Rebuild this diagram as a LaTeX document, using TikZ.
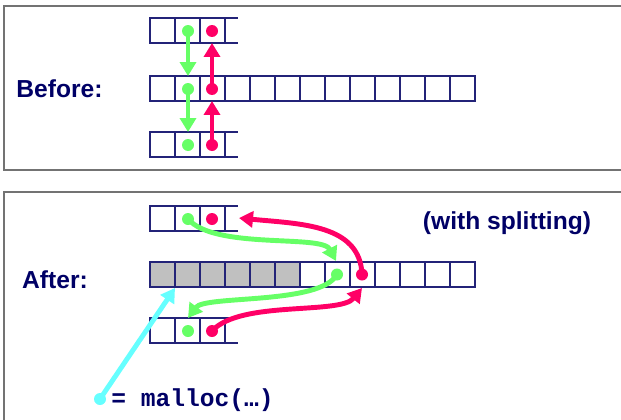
\documentclass[tikz,border=0pt]{standalone}
\usepackage{fontspec}
\newfontfamily\labelfont{Liberation Sans}
\newfontfamily\codefont{Liberation Mono}
\usetikzlibrary{arrows.meta}
\definecolor{navy}{RGB}{0,0,102}
\definecolor{cellblue}{RGB}{35,35,120}
\definecolor{cellgrey}{RGB}{192,192,192}
\definecolor{fgreen}{RGB}{102,255,102}
\definecolor{fred}{RGB}{255,0,102}
\definecolor{fcyan}{RGB}{102,255,255}
\tikzset{
  frame/.style={draw=gray!90!black, line width=0.9pt},
  cell/.style={draw=cellblue, line width=0.6pt},
  dot/.style={circle, inner sep=0pt, minimum size=0.24cm, fill=#1},
  link/.style={draw=#1, line width=2.8pt, -{Triangle[length=0.28cm,width=0.32cm]}},
  title/.style={font=\labelfont\bfseries\fontsize{14}{16}\selectfont, text=navy},
  code/.style={font=\codefont\bfseries\fontsize{14}{16}\selectfont, text=navy}
}
% three cells and an open end
\def\stubrow(#1,#2){%
  \draw[cell] (#1,#2) rectangle ++(75,25);
  \draw[cell] (#1+25,#2) -- ++(0,25) (#1+50,#2) -- ++(0,25);
  \draw[cell] (#1+75,#2) -- ++(13,0) (#1+75,#2+25) -- ++(13,0);}
% thirteen cells in a row
\def\longrow(#1,#2){%
  \foreach \i in {0,...,12} \draw[cell] (#1+25*\i,#2) rectangle ++(25,25);}

\begin{document}
\begin{tikzpicture}[x=0.02cm, y=-0.02cm]
			%%%%% START %%%%%
			\useasboundingbox (0,0) rectangle (621,419);
			\clip (0,0) rectangle (621,419);
			
			\draw[frame] (630,6) -- (4,6) -- (4,170) -- (630,170);
			\draw[frame] (630,192) -- (4,192) -- (4,430);
			
			%%%%% BEFORE %%%%%
			\node[title] (before) at (59.5,88.5) {Before:};
			\stubrow(150,18)
			\longrow(150,76)
			\stubrow(150,132)
			
			\node[dot=fgreen] (g1) at (188,31) {};
			\node[dot=fred] (r1) at (212,31) {};
			\node[dot=fgreen] (g2) at (188,89) {};
			\node[dot=fred] (r2) at (212,89) {};
			\node[dot=fgreen] (g3) at (188,145) {};
			\node[dot=fred] (r3) at (212,145) {};
			
			\coordinate (g2top) at (188,76);
			\coordinate (r1bot) at (212,43);
			\coordinate (g3top) at (188,132);
			\coordinate (r2bot) at (212,101);
			\draw[link=fgreen] (g1.center) -- (g2top);
			\draw[link=fred] (r2.center) -- (r1bot);
			\draw[link=fgreen] (g2.center) -- (g3top);
			\draw[link=fred] (r3.center) -- (r2bot);
			
			%%%%% AFTER %%%%%
			\node[title] (after) at (55,280) {After:};
			\node[title] (split) at (507,223.5) {(with splitting)};
			\stubrow(150,206)
			\foreach \i in {0,...,5} \fill[cellgrey] (150+25*\i,262) rectangle ++(25,25);
			\longrow(150,262)
			\stubrow(150,318)
			
			\node[dot=fgreen] (a1) at (188,219) {};
			\node[dot=fred] (b1) at (212,219) {};
			\node[dot=fgreen] (a2) at (337,274.5) {};
			\node[dot=fred] (b2) at (362,274.5) {};
			\node[dot=fgreen] (a3) at (188,331) {};
			\node[dot=fred] (b3) at (212,331) {};
			
			\coordinate (a2top) at (336,261);
			\coordinate (b1end) at (239,218);
			\coordinate (a3top) at (188,318);
			\coordinate (b2bot) at (362,288);
			\draw[link=fgreen] (a1.center) .. controls (215,250) and (322,234) .. (a2top);
			\draw[link=fred] (b2.center) .. controls (360,224) and (300,224) .. (b1end);
			\draw[link=fgreen] (a2.center) .. controls (320,305) and (205,295) .. (a3top);
			\draw[link=fred] (b3.center) .. controls (240,300) and (340,315) .. (b2bot);
			
			\node[dot=fcyan] (m) at (100,399) {};
			\node[code] (call) at (192.5,400) {= malloc(…)};
			\coordinate (start) at (175,288);
			\draw[link=fcyan] (m.center) -- (start);
			%%%%% END %%%%%
\end{tikzpicture}
\end{document}
